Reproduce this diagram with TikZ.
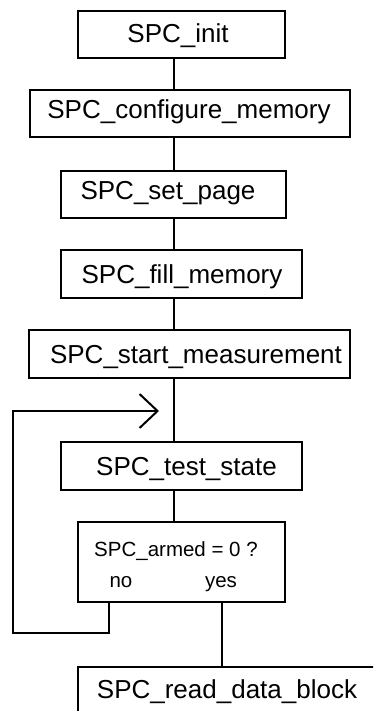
\documentclass[tikz,border=0pt]{standalone}
\usepackage{fontspec}
\setmainfont{Liberation Sans}
\usetikzlibrary{arrows.meta}
\begin{document}
\begin{tikzpicture}[x=1pt,y=-1pt,
  box/.style={draw=black,line width=2pt,rectangle,inner sep=0pt},
  lbl/.style={anchor=base,inner sep=0pt,font=\fontsize{26}{30}\selectfont},
  slbl/.style={anchor=base,inner sep=0pt,font=\fontsize{20.5}{24}\selectfont},
  conn/.style={draw=black,line width=2pt},
]
\useasboundingbox (0,0) rectangle (373,711);
\begin{scope}
\clip (0,0) rectangle (373,711);
\node[box,minimum width=207pt,minimum height=47pt] (b1) at (181.5,34.5) {};
\node[box,minimum width=320pt,minimum height=47pt] (b2) at (190,113.5) {};
\node[box,minimum width=225pt,minimum height=47pt] (b3) at (173.5,194.5) {};
\node[box,minimum width=241pt,minimum height=48pt] (b4) at (181.5,274) {};
\node[box,minimum width=321pt,minimum height=48pt] (b5) at (189.5,354) {};
\node[box,minimum width=241pt,minimum height=48pt] (b6) at (181.5,466) {};
\node[box,minimum width=207pt,minimum height=80pt] (b7) at (181.5,562) {};
\node[box,minimum width=307pt,minimum height=48pt] (b8) at (231.5,691) {};

\node[lbl] (t1) at (178,43) {SPC\_init};
\node[lbl] (t2) at (189,119) {SPC\_configure\_memory};
\node[lbl] (t3) at (168,200) {SPC\_set\_page};
\node[lbl] (t4) at (182,283) {SPC\_fill\_memory};
\node[lbl] (t5) at (196,363) {SPC\_start\_measurement};
\node[lbl] (t6) at (186.5,475) {SPC\_test\_state};
\node[slbl] (t7) at (176,556) {SPC\_armed = 0 ?};
\node[slbl] (tno) at (121,587) {no};
\node[slbl] (tyes) at (221,587) {yes};
\node[lbl] (t8) at (227,698) {SPC\_read\_data\_block};

\coordinate (spine) at (174,0);
\coordinate (nox) at (109,0);
\coordinate (yesx) at (222,0);
\coordinate (corner1) at (109,633);
\coordinate (corner2) at (13,633);
\coordinate (corner3) at (13,411);
\coordinate (tip) at (159,411);

\draw[conn] (b1.south -| spine) -- (b2.north -| spine);
\draw[conn] (b2.south -| spine) -- (b3.north -| spine);
\draw[conn] (b3.south -| spine) -- (b4.north -| spine);
\draw[conn] (b4.south -| spine) -- (b5.north -| spine);
\draw[conn] (b5.south -| spine) -- (b6.north -| spine);
\draw[conn] (b6.south -| spine) -- (b7.north -| spine);
\draw[conn] (b7.south -| yesx) -- (b8.north -| yesx);
\draw[conn,-{Straight Barb[length=18pt,width=34pt,line width=2pt]}] (b7.south -| nox) -- (corner1) -- (corner2) -- (corner3) -- (tip);
\end{scope}
\end{tikzpicture}
\end{document}
